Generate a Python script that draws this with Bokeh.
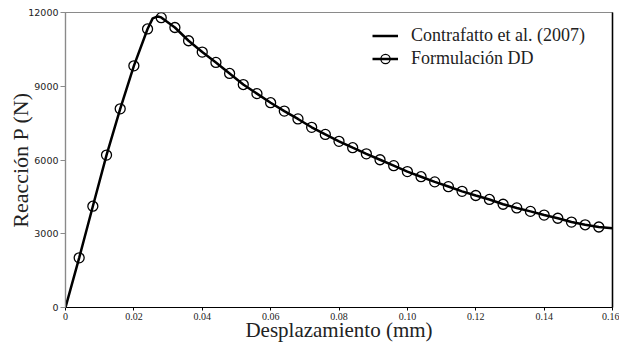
from bokeh.plotting import figure
from bokeh.models import Range1d, Legend, LegendItem, LinearAxis, CustomJSTickFormatter, FixedTicker
from bokeh.embed import file_html
from bokeh.resources import INLINE

# Contrafatto et al. (2007) - continuous curve
line_x = [0.0, 0.004, 0.008, 0.012, 0.016, 0.020, 0.024, 0.0255, 0.027, 0.028,
          0.032, 0.036, 0.040, 0.044, 0.048, 0.052, 0.056, 0.060, 0.064, 0.068,
          0.072, 0.076, 0.080, 0.084, 0.088, 0.092, 0.096, 0.100, 0.104, 0.108,
          0.112, 0.116, 0.120, 0.124, 0.128, 0.132, 0.136, 0.140, 0.144, 0.148,
          0.152, 0.156, 0.160]
line_y = [0, 2020, 4120, 6200, 8080, 9830, 11330, 11760, 11840, 11800,
          11390, 10850, 10390, 9970, 9520, 9070, 8700, 8330, 7990, 7670,
          7330, 7040, 6760, 6500, 6250, 6010, 5770, 5530, 5320, 5110,
          4920, 4725, 4555, 4395, 4200, 4050, 3910, 3760, 3630, 3475,
          3365, 3275, 3220]

# Formulación DD - markers
dd_x = [0.004, 0.008, 0.012, 0.016, 0.020, 0.024, 0.028,
        0.032, 0.036, 0.040, 0.044, 0.048, 0.052, 0.056, 0.060, 0.064, 0.068,
        0.072, 0.076, 0.080, 0.084, 0.088, 0.092, 0.096, 0.100, 0.104, 0.108,
        0.112, 0.116, 0.120, 0.124, 0.128, 0.132, 0.136, 0.140, 0.144, 0.148,
        0.152, 0.156]
dd_y = [2020, 4120, 6200, 8080, 9830, 11330, 11790,
        11390, 10850, 10390, 9970, 9520, 9070, 8700, 8330, 7990, 7670,
        7330, 7040, 6760, 6500, 6250, 6010, 5770, 5530, 5320, 5110,
        4915, 4725, 4555, 4395, 4200, 4050, 3910, 3760, 3630, 3475,
        3365, 3275]

x_ticks = [0, 0.02, 0.04, 0.06, 0.08, 0.10, 0.12, 0.14, 0.16]
y_ticks = [0, 3000, 6000, 9000, 12000]

p = figure(width=619, height=344, output_backend="svg", toolbar_location=None,
           x_range=Range1d(0, 0.16), y_range=Range1d(0, 12000),
           min_border_left=65, min_border_right=7, min_border_top=12, min_border_bottom=36)
p.xgrid.visible = False
p.ygrid.visible = False
p.background_fill_color = "white"
p.border_fill_color = "white"
p.outline_line_color = "#8a8a8a"
p.outline_line_width = 1.2

r_line = p.line(line_x, line_y, line_color="black", line_width=2.5)
r_dd = p.scatter(dd_x, dd_y, marker="circle", size=10, fill_alpha=0,
                 line_color="black", line_width=1.3)

# axes
xa = p.xaxis[0]
xa.ticker = FixedTicker(ticks=x_ticks)
xa.formatter = CustomJSTickFormatter(code="return tick == 0 ? '0' : tick.toFixed(2);")
xa.axis_label = "Desplazamiento (mm)"
xa.axis_label_text_font = "Liberation Serif"
xa.axis_label_text_font_style = "normal"
xa.axis_label_text_font_size = "21px"
xa.axis_label_text_color = "#222222"
xa.axis_label_standoff = -5
xa.major_label_text_font = "Liberation Serif"
xa.major_label_text_font_size = "10px"
xa.major_label_text_color = "#222222"
xa.major_label_standoff = 2
xa.major_tick_out = 3
xa.major_tick_in = 0
xa.minor_tick_out = 0
xa.minor_tick_in = 0
xa.axis_line_color = "black"
xa.axis_line_width = 1.2
xa.major_tick_line_color = "black"

ya = p.yaxis[0]
ya.ticker = FixedTicker(ticks=y_ticks)
ya.axis_label = "Reacción P (N)"
ya.axis_label_text_font = "Liberation Serif"
ya.axis_label_text_font_style = "normal"
ya.axis_label_text_font_size = "22px"
ya.axis_label_text_color = "#222222"
ya.axis_label_standoff = -8
ya.major_label_text_font = "DejaVu Sans"
ya.major_label_text_font_size = "9.5px"
ya.major_label_text_color = "#222222"
ya.major_label_standoff = 2
ya.major_label_orientation = "horizontal"
ya.major_tick_out = 5
ya.major_tick_in = 0
ya.minor_tick_out = 0
ya.minor_tick_in = 0
ya.axis_line_color = "#8a8a8a"
ya.axis_line_width = 1.2
ya.major_tick_line_color = "#8a8a8a"

ra = LinearAxis(major_label_text_font_size="0px", major_tick_out=0, major_tick_in=0,
                minor_tick_out=0, minor_tick_in=0, axis_line_color="black",
                axis_line_width=1.5, major_label_standoff=0)
ra.ticker = FixedTicker(ticks=[])
p.add_layout(ra, "right")

legend = Legend(items=[LegendItem(label="Contrafatto et al. (2007)", renderers=[r_line]),
                       LegendItem(label="Formulación DD", renderers=[r_line, r_dd])],
                location=(307, 237), padding=0, margin=0, spacing=0,
                glyph_width=26, glyph_height=23, label_height=23, label_standoff=13,
                label_text_font="Liberation Serif", label_text_font_size="18px",
                label_text_color="#222222",
                border_line_alpha=0, background_fill_alpha=0)
p.add_layout(legend)

open("out.html", "w").write(file_html(p, INLINE))
